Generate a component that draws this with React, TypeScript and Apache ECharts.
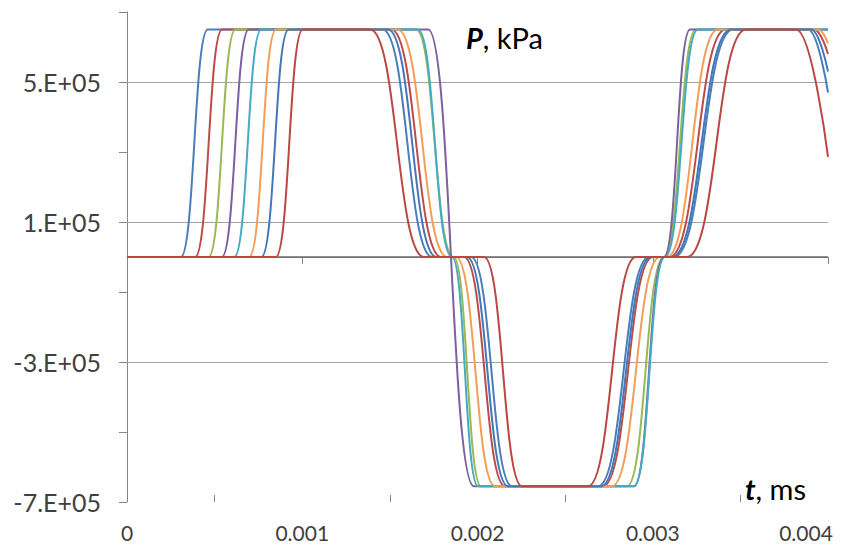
import { useEffect, useRef } from 'react';
import * as echarts from 'echarts';

const FONT = 'Lato, "Noto Sans", sans-serif';

// Pressure traces [t, P] at eight measuring points (corner points of each front)
const p1 = [
  [0, 0], [0.000307, 0], [0.000461, 650000],
  [0.001458, 650000], [0.001742, 0],
  [0.001963, 0], [0.002197, -655000],
  [0.002688, -655000], [0.002979, 0],
  [0.003121, 0], [0.003458, 650000],
  [0.003886, 650000], [0.004, 470000],
];
const p2 = [
  [0, 0], [0.000389, 0], [0.000543, 650000],
  [0.001508, 650000], [0.001792, 0],
  [0.001923, 0], [0.002157, -655000],
  [0.002716, -655000], [0.003001, 0],
  [0.003096, 0], [0.003416, 650000],
  [0.003920, 650000], [0.004, 580000],
];
const p3 = [
  [0, 0], [0.000465, 0], [0.000619, 650000],
  [0.001649, 650000], [0.001863, 0], [0.002020, -655000],
  [0.002853, -655000], [0.003064, 0], [0.003247, 650000],
  [0.004, 650000],
];
const p4 = [
  [0, 0], [0.000541, 0], [0.000695, 650000],
  [0.001718, 650000], [0.001980, -655000],
  [0.002893, -655000], [0.003064, 0], [0.003213, 650000],
  [0.004, 650000],
];
const p5 = [
  [0, 0], [0.000612, 0], [0.000766, 650000],
  [0.001660, 650000], [0.001854, 0], [0.002003, -655000],
  [0.002893, -655000], [0.003070, 0], [0.003258, 650000],
  [0.004, 650000],
];
const p6 = [
  [0, 0], [0.000697, 0], [0.000851, 650000],
  [0.001544, 650000], [0.001827, 0],
  [0.001877, 0], [0.002100, -655000],
  [0.002767, -655000], [0.003041, 0],
  [0.003080, 0], [0.003372, 650000],
  [0.003943, 650000], [0.004, 610000],
];
const p7 = [
  [0, 0], [0.000767, 0], [0.000922, 650000],
  [0.001489, 650000], [0.001766, 0],
  [0.001940, 0], [0.002174, -655000],
  [0.002705, -655000], [0.002990, 0],
  [0.003110, 0], [0.003447, 650000],
  [0.003903, 650000], [0.004, 530000],
];
const p8 = [
  [0, 0], [0.000849, 0], [0.001003, 650000],
  [0.001387, 650000], [0.001695, 0],
  [0.002037, 0], [0.002254, -655000],
  [0.002631, -655000], [0.002904, 0],
  [0.003195, 0], [0.003532, 650000],
  [0.003817, 650000], [0.004, 286000],
];

const traces = [p1, p2, p3, p4, p5, p6, p7, p8];
const traceNames = ['1', '2', '3', '4', '5', '6', '7', '8'];
const traceColors = ['#4A7EBB', '#BE4B48', '#98B954', '#7D60A0', '#46AAC5', '#F59D56', '#4477B8', '#BB4744'];

// Axis labels, gridlines and inward minor ticks
const yLabelValues = [-700000, -300000, 100000, 500000];
const yGridValues = [-300000, 100000, 500000];
const xLabelValues = [0, 0.001, 0.002, 0.003, 0.004];
const xMinorTicks = [0.0005, 0.0015, 0.0025, 0.0035];

export default function App() {
  const ref = useRef<HTMLDivElement>(null);

  useEffect(() => {
    if (!ref.current) return;
    const chart = echarts.init(ref.current, undefined, { renderer: 'svg' });

    const series: any[] = traces.map((data, i) => ({
      name: traceNames[i],
      type: 'line',
      data,
      showSymbol: false,
      smooth: 0.5,
      smoothMonotone: 'x',
      lineStyle: { color: traceColors[i], width: 2 },
      itemStyle: { color: traceColors[i] },
      emphasis: { disabled: true },
      z: 3,
    }));

    const tickStyle = { color: '#868686', width: 1, type: 'solid' };
    series[0].markLine = {
      silent: true,
      symbol: 'none',
      z: 1,
      label: { show: false },
      emphasis: { disabled: true },
      data: [
        ...yGridValues.map((v) => ({ yAxis: v, lineStyle: { color: '#A3A3A3', width: 1, type: 'solid' } })),
        { yAxis: 0, lineStyle: { color: '#6A6A6A', width: 1.5, type: 'solid' } },
        ...xMinorTicks.map((t) => [
          { coord: [t, -700000], lineStyle: tickStyle },
          { coord: [t, -680000] },
        ]),
      ],
    };

    const xLabelText = { fontFamily: FONT, fontSize: 21, color: '#404040' };
    const lastX = xLabelValues[xLabelValues.length - 1];

    chart.setOption({
      animation: false,
      backgroundColor: '#ffffff',
      grid: { left: 127, right: 35, top: 12, bottom: 51, containLabel: false, outerBoundsMode: 'none' },
      xAxis: {
        type: 'value',
        min: 0,
        max: 0.004,
        interval: 0.001,
        axisLine: { lineStyle: { color: '#868686', width: 1 } },
        axisTick: { show: true, length: 7, lineStyle: { color: '#868686' } },
        splitLine: { show: false },
        axisLabel: {
          margin: 20,
          ...xLabelText,
          rich: {
            n: { ...xLabelText },
            // keeps the last label inside the chart edge
            e: { ...xLabelText, padding: [0, 44, 0, 0] },
          },
          formatter: (v: number) => {
            const hit = xLabelValues.find((x) => Math.abs(x - v) < 1e-9);
            if (hit === undefined) return '';
            return hit === lastX ? `{e|${hit}}` : `{n|${hit}}`;
          },
        },
      },
      yAxis: {
        type: 'value',
        min: -700000,
        max: 700000,
        interval: 200000,
        axisLine: { show: true, lineStyle: { color: '#868686', width: 1 } },
        axisTick: { show: true, length: 8, lineStyle: { color: '#868686' } },
        splitLine: { show: false },
        axisLabel: {
          margin: 26,
          fontFamily: FONT,
          fontSize: 25,
          color: '#404040',
          formatter: (v: number) => {
            const hit = yLabelValues.find((y) => Math.abs(y - v) < 1);
            return hit === undefined ? '' : `${Math.round(hit / 100000)}.E+05`;
          },
        },
      },
      graphic: [
        {
          type: 'text',
          left: 466,
          top: 23,
          style: {
            text: '{b|P}{n|, kPa}',
            rich: {
              b: { fontFamily: FONT, fontSize: 29, fontWeight: 'bold', fontStyle: 'italic', fill: '#000000' },
              n: { fontFamily: FONT, fontSize: 29, fill: '#000000' },
            },
          },
        },
        {
          type: 'text',
          left: 745,
          top: 474,
          style: {
            text: '{b|t}{n|, ms}',
            rich: {
              b: { fontFamily: FONT, fontSize: 29, fontWeight: 'bold', fontStyle: 'italic', fill: '#000000' },
              n: { fontFamily: FONT, fontSize: 29, fill: '#000000' },
            },
          },
        },
      ],
      series,
    });

    return () => chart.dispose();
  }, []);

  return (
    <div
      ref={ref}
      style={{ position: 'absolute', left: 0, top: 0, width: 863, height: 553 }}
    />
  );
}
